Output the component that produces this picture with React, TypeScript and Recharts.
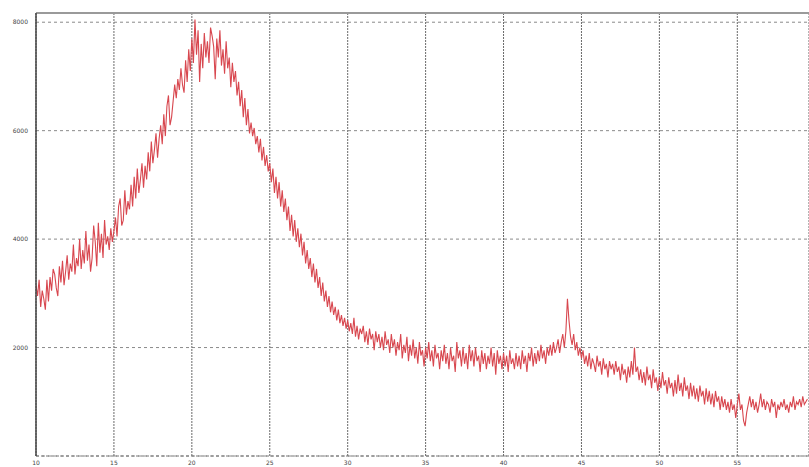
import { LineChart, Line, XAxis, YAxis, CartesianGrid, ReferenceLine } from 'recharts';

// intensity rows, one per degree of 2θ, sampled every 0.1°
const row10 = [3150, 2950, 3250, 2750, 3050, 2900, 2700, 3250, 2850, 3300];
const row11 = [3050, 3450, 3350, 3100, 2950, 3500, 3200, 3600, 3150, 3400];
const row12 = [3700, 3250, 3550, 3400, 3900, 3350, 3650, 3500, 4000, 3450];
const row13 = [3800, 3550, 4150, 3600, 3900, 3400, 3650, 4250, 3950, 3500];
const row14 = [4300, 3750, 4100, 3650, 4350, 3900, 4050, 3800, 4200, 3950];
const row15 = [4150, 4400, 4050, 4600, 4750, 4250, 4350, 4900, 4450, 4700];
const row16 = [4550, 5000, 4600, 5150, 4750, 5300, 4850, 5100, 5400, 4950];
const row17 = [5350, 5100, 5600, 5250, 5800, 5400, 5650, 5950, 5500, 5850];
const row18 = [6100, 5750, 6300, 5900, 6450, 6650, 6100, 6250, 6550, 6850];
const row19 = [6600, 6950, 6750, 7150, 6850, 6700, 7300, 6900, 7500, 7100];
const row20 = [7700, 7250, 8050, 7400, 7850, 6900, 7600, 7150, 7800, 7350];
const row21 = [7650, 7250, 7900, 7750, 7550, 6950, 7700, 7350, 7850, 7200];
const row22 = [7500, 7050, 7650, 7150, 7350, 6800, 7250, 6900, 7100, 6650];
const row23 = [6900, 6450, 6750, 6250, 6600, 6100, 6400, 5950, 6150, 5900];
const row24 = [6050, 5750, 5900, 5600, 5850, 5450, 5700, 5350, 5550, 5250];
const row25 = [5400, 5050, 5300, 4850, 5150, 4750, 5050, 4600, 4900, 4500];
const row26 = [4750, 4350, 4600, 4150, 4450, 4050, 4350, 3950, 4200, 3850];
const row27 = [4100, 3700, 3950, 3550, 3800, 3450, 3650, 3300, 3550, 3200];
const row28 = [3450, 3100, 3300, 2950, 3200, 2850, 3050, 2750, 2950, 2650];
const row29 = [2850, 2600, 2750, 2500, 2700, 2450, 2600, 2400, 2550, 2350];
const row30 = [2500, 2300, 2450, 2250, 2550, 2200, 2400, 2150, 2350, 2250];
const row31 = [2400, 2100, 2300, 2050, 2350, 2150, 2250, 1950, 2300, 2100];
const row32 = [2250, 2000, 2200, 1950, 2300, 2050, 2150, 1900, 2250, 2000];
const row33 = [2150, 1850, 2100, 1950, 2250, 1800, 2050, 1900, 2200, 1750];
const row34 = [2050, 1850, 2150, 1800, 2000, 1700, 2100, 1850, 1950, 1650];
const row35 = [2000, 1800, 2100, 1750, 1950, 1650, 2050, 1800, 1900, 1600];
const row36 = [1950, 1750, 2050, 1700, 1900, 1600, 2000, 1750, 1850, 1550];
const row37 = [2100, 1800, 1950, 1650, 2000, 1700, 1900, 1600, 2050, 1750];
const row38 = [1950, 1650, 2000, 1750, 1850, 1550, 1950, 1700, 1900, 1600];
const row39 = [1850, 1700, 2000, 1650, 1900, 1500, 1950, 1700, 1850, 1600];
const row40 = [1900, 1650, 1850, 1550, 1950, 1700, 1800, 1600, 1900, 1650];
const row41 = [1850, 1600, 1950, 1700, 1850, 1550, 1900, 1750, 2000, 1650];
const row42 = [1900, 1700, 1950, 1750, 2050, 1800, 1950, 1700, 2000, 1850];
const row43 = [2050, 1850, 2100, 1900, 2000, 2150, 1900, 2100, 2250, 2000];
const row44 = [2300, 2900, 2500, 2200, 2050, 2250, 1950, 2100, 1850, 2000];
const row45 = [1800, 1950, 1700, 1850, 1650, 1900, 1600, 1800, 1700, 1550];
const row46 = [1850, 1650, 1750, 1500, 1800, 1600, 1700, 1450, 1750, 1600];
const row47 = [1700, 1500, 1750, 1550, 1650, 1400, 1700, 1500, 1600, 1350];
const row48 = [1650, 1450, 1750, 1500, 2000, 1550, 1650, 1400, 1600, 1350];
const row49 = [1550, 1300, 1650, 1400, 1500, 1250, 1600, 1350, 1450, 1200];
const row50 = [1450, 1250, 1550, 1300, 1400, 1150, 1450, 1250, 1350, 1100];
const row51 = [1400, 1150, 1500, 1200, 1350, 1100, 1450, 1200, 1300, 1050];
const row52 = [1350, 1100, 1300, 1050, 1250, 1000, 1300, 1100, 1200, 950];
const row53 = [1250, 1000, 1200, 950, 1150, 900, 1200, 1000, 1100, 850];
const row54 = [1100, 900, 1050, 850, 1000, 800, 1050, 850, 950, 700];
const row55 = [950, 1150, 850, 950, 650, 550, 800, 950, 1100, 900];
const row56 = [1050, 850, 1000, 800, 950, 1150, 900, 1050, 850, 1000];
const row57 = [950, 800, 1050, 900, 1000, 700, 950, 850, 1000, 900];
const row58 = [1050, 850, 950, 800, 1000, 900, 1100, 850, 1000, 950];
const row59 = [1050, 900, 1100, 950, 1000, 1050];

const intensity = [
  ...row10, ...row11, ...row12, ...row13, ...row14, ...row15, ...row16, ...row17, ...row18, ...row19,
  ...row20, ...row21, ...row22, ...row23, ...row24, ...row25, ...row26, ...row27, ...row28, ...row29,
  ...row30, ...row31, ...row32, ...row33, ...row34, ...row35, ...row36, ...row37, ...row38, ...row39,
  ...row40, ...row41, ...row42, ...row43, ...row44, ...row45, ...row46, ...row47, ...row48, ...row49,
  ...row50, ...row51, ...row52, ...row53, ...row54, ...row55, ...row56, ...row57, ...row58, ...row59,
];

const startAngle = 10;
const stepAngle = 0.1;
const xTicks = [10, 15, 20, 25, 30, 35, 40, 45, 50, 55];
const yTicks = [2000, 4000, 6000, 8000];

const data = intensity.map((v, i) => ({
  angle: Math.round((startAngle + i * stepAngle) * 10) / 10,
  counts: v,
}));

export default function App() {
  return (
    <div style={{ position: 'absolute', left: 0, top: 0, width: 809, height: 467, background: '#fff' }}>
      <LineChart width={809} height={467} data={data} margin={{ top: 13, right: 0, left: 0, bottom: 0 }}>
        <CartesianGrid horizontal={true} vertical={false} stroke="#8a8a8a" strokeDasharray="3 3" />
        <CartesianGrid horizontal={false} vertical={true} stroke="#6a6a6a" strokeDasharray="2 1" />
        <ReferenceLine y={8170} stroke="#9a9a9a" strokeWidth={2} />
        <XAxis
          dataKey="angle"
          type="number"
          domain={[10, 59.6]}
          ticks={xTicks}
          allowDataOverflow
          height={11}
          axisLine={{ stroke: '#777', strokeDasharray: '3 2' }}
          tickLine={false}
          tick={{ fill: '#444', fontSize: 6, fontFamily: 'DejaVu Sans', dy: -3 }}
        />
        <YAxis
          type="number"
          domain={[0, 8170]}
          ticks={yTicks}
          allowDataOverflow
          width={36}
          axisLine={{ stroke: '#444', strokeWidth: 1.5 }}
          tickLine={false}
          tick={{ fill: '#444', fontSize: 6, fontFamily: 'DejaVu Sans' }}
        />
        <Line
          type="linear"
          dataKey="counts"
          stroke="#d8474f"
          strokeWidth={1.1}
          dot={false}
          isAnimationActive={false}
        />
      </LineChart>
    </div>
  );
}
